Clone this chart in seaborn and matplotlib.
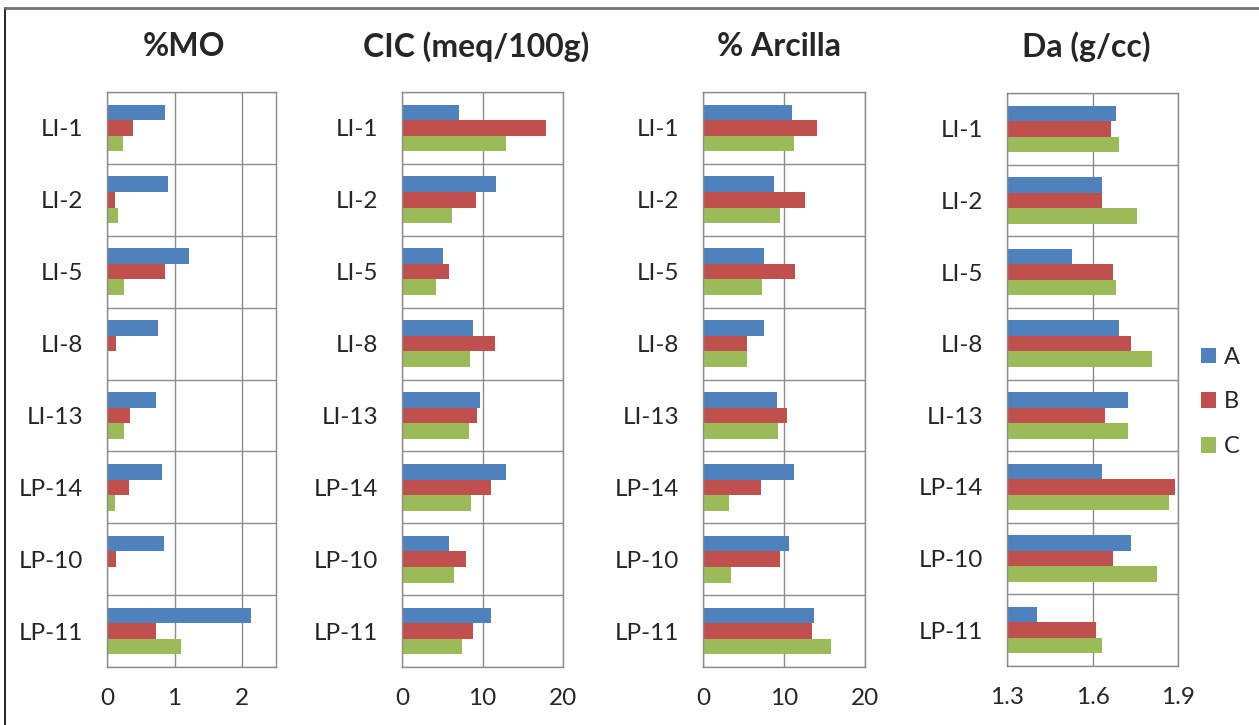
import numpy as np
import pandas as pd
import matplotlib
matplotlib.use("Agg")
import matplotlib.pyplot as plt
import seaborn as sns
from matplotlib.patches import Patch
from matplotlib.lines import Line2D

# samples and series
samples = ['LI-1', 'LI-2', 'LI-5', 'LI-8', 'LI-13', 'LP-14', 'LP-10', 'LP-11']
series = ['A', 'B', 'C']

# %MO
mo_a = [0.86, 0.90, 1.21, 0.75, 0.72, 0.81, 0.84, 2.13]
mo_b = [0.39, 0.12, 0.86, 0.14, 0.34, 0.32, 0.14, 0.72]
mo_c = [0.23, 0.16, 0.25, 0.0, 0.25, 0.12, 0.0, 1.10]

# CIC (meq/100g)
cic_a = [7.1, 11.7, 5.1, 8.8, 9.7, 12.9, 5.8, 11.0]
cic_b = [17.9, 9.2, 5.8, 11.6, 9.3, 11.0, 7.9, 8.8]
cic_c = [12.9, 6.2, 4.2, 8.4, 8.3, 8.6, 6.4, 7.5]

# % Arcilla
arc_a = [11.0, 8.8, 7.5, 7.5, 9.1, 11.2, 10.6, 13.7]
arc_b = [14.1, 12.6, 11.4, 5.4, 10.4, 7.1, 9.5, 13.5]
arc_c = [11.2, 9.5, 7.3, 5.4, 9.3, 3.2, 3.4, 15.8]

# Da (g/cc)
da_a = [1.683, 1.634, 1.528, 1.693, 1.725, 1.634, 1.736, 1.404]
da_b = [1.666, 1.634, 1.672, 1.736, 1.645, 1.889, 1.672, 1.613]
da_c = [1.693, 1.757, 1.683, 1.810, 1.725, 1.868, 1.826, 1.634]

titles = ['%MO', 'CIC (meq/100g)', '% Arcilla', 'Da (g/cc)']
xlims = [(0, 2.5), (0, 20), (0, 20), (1.3, 1.9)]
xticks = [[0, 1, 2], [0, 10, 20], [0, 10, 20], [1.3, 1.6, 1.9]]
xticklabels = [['0', '1', '2'], ['0', '10', '20'], ['0', '10', '20'], ['1.3', '1.6', '1.9']]

colors = ['#4F81BD', '#C0504D', '#9BBB59']
grid_c = '#8C8C8C'


def long_df(a, b, c):
    return pd.DataFrame({
        'sample': samples * 3,
        'serie': ['A'] * 8 + ['B'] * 8 + ['C'] * 8,
        'value': list(a) + list(b) + list(c),
    })


frames = [long_df(mo_a, mo_b, mo_c), long_df(cic_a, cic_b, cic_c),
          long_df(arc_a, arc_b, arc_c), long_df(da_a, da_b, da_c)]

sns.set_style('white')
plt.rcParams['font.family'] = ['Lato', 'DejaVu Sans']

W, H = 1259, 725
fig = plt.figure(figsize=(W / 100, H / 100), dpi=100)

# plot areas in pixels: left, right, top, bottom
boxes = [(107, 276, 92, 667), (402, 563, 92, 667), (703, 865, 92, 667), (1007, 1178, 93, 666)]
title_x = [184, 476, 779, 1086]

for i, df in enumerate(frames):
    l, r, t, b = boxes[i]
    ax = fig.add_axes([l / W, (H - b) / H, (r - l) / W, (b - t) / H])
    sns.barplot(data=df, x='value', y='sample', hue='serie', orient='h',
                palette=colors, width=0.65, legend=False, ax=ax,
                order=samples, hue_order=series, saturation=1, linewidth=0)
    ax.set_xlim(*xlims[i])
    ax.set_ylim(len(samples) - 0.5, -0.5)
    ax.set_xticks(xticks[i])
    ax.set_xticklabels(xticklabels[i], fontsize=17.5)
    ax.set_yticks(np.arange(-0.5, len(samples), 1))
    ax.set_yticklabels([])
    ax.set_yticks(np.arange(len(samples)), minor=True)
    ax.set_yticklabels(samples, minor=True, fontsize=17.5)
    ax.tick_params(axis='y', which='major', length=7.5, width=1, color=grid_c, direction='out')
    ax.tick_params(axis='y', which='minor', length=0, pad=17)
    ax.tick_params(axis='x', length=0, pad=15)
    ax.set_xlabel('')
    ax.set_ylabel('')
    ax.grid(True, which='major', color=grid_c, linewidth=1)
    ax.set_axisbelow(True)
    for s in ax.spines.values():
        s.set_color(grid_c)
        s.set_linewidth(1)
    fig.text(title_x[i] / W, 1 - 47 / H, titles[i], ha='center', va='center',
             fontsize=23, fontweight='bold')

handles = [Patch(facecolor=c, edgecolor='none', label=s) for c, s in zip(colors, series)]
fig.legend(handles=handles, loc='center left', bbox_to_anchor=(1201 / W, 1 - 402 / H),
           frameon=False, fontsize=17, handlelength=0.65, handleheight=0.65,
           handletextpad=0.3, labelspacing=1.0, borderpad=0, borderaxespad=0)

# outer frame
fig.add_artist(Line2D([5 / W, 5 / W], [0, 1 - 8 / H], color='black', linewidth=1.2))
fig.add_artist(Line2D([5 / W, 1], [1 - 8 / H, 1 - 8 / H], color='#707070', linewidth=2))

fig.savefig('out.png', dpi=100)
